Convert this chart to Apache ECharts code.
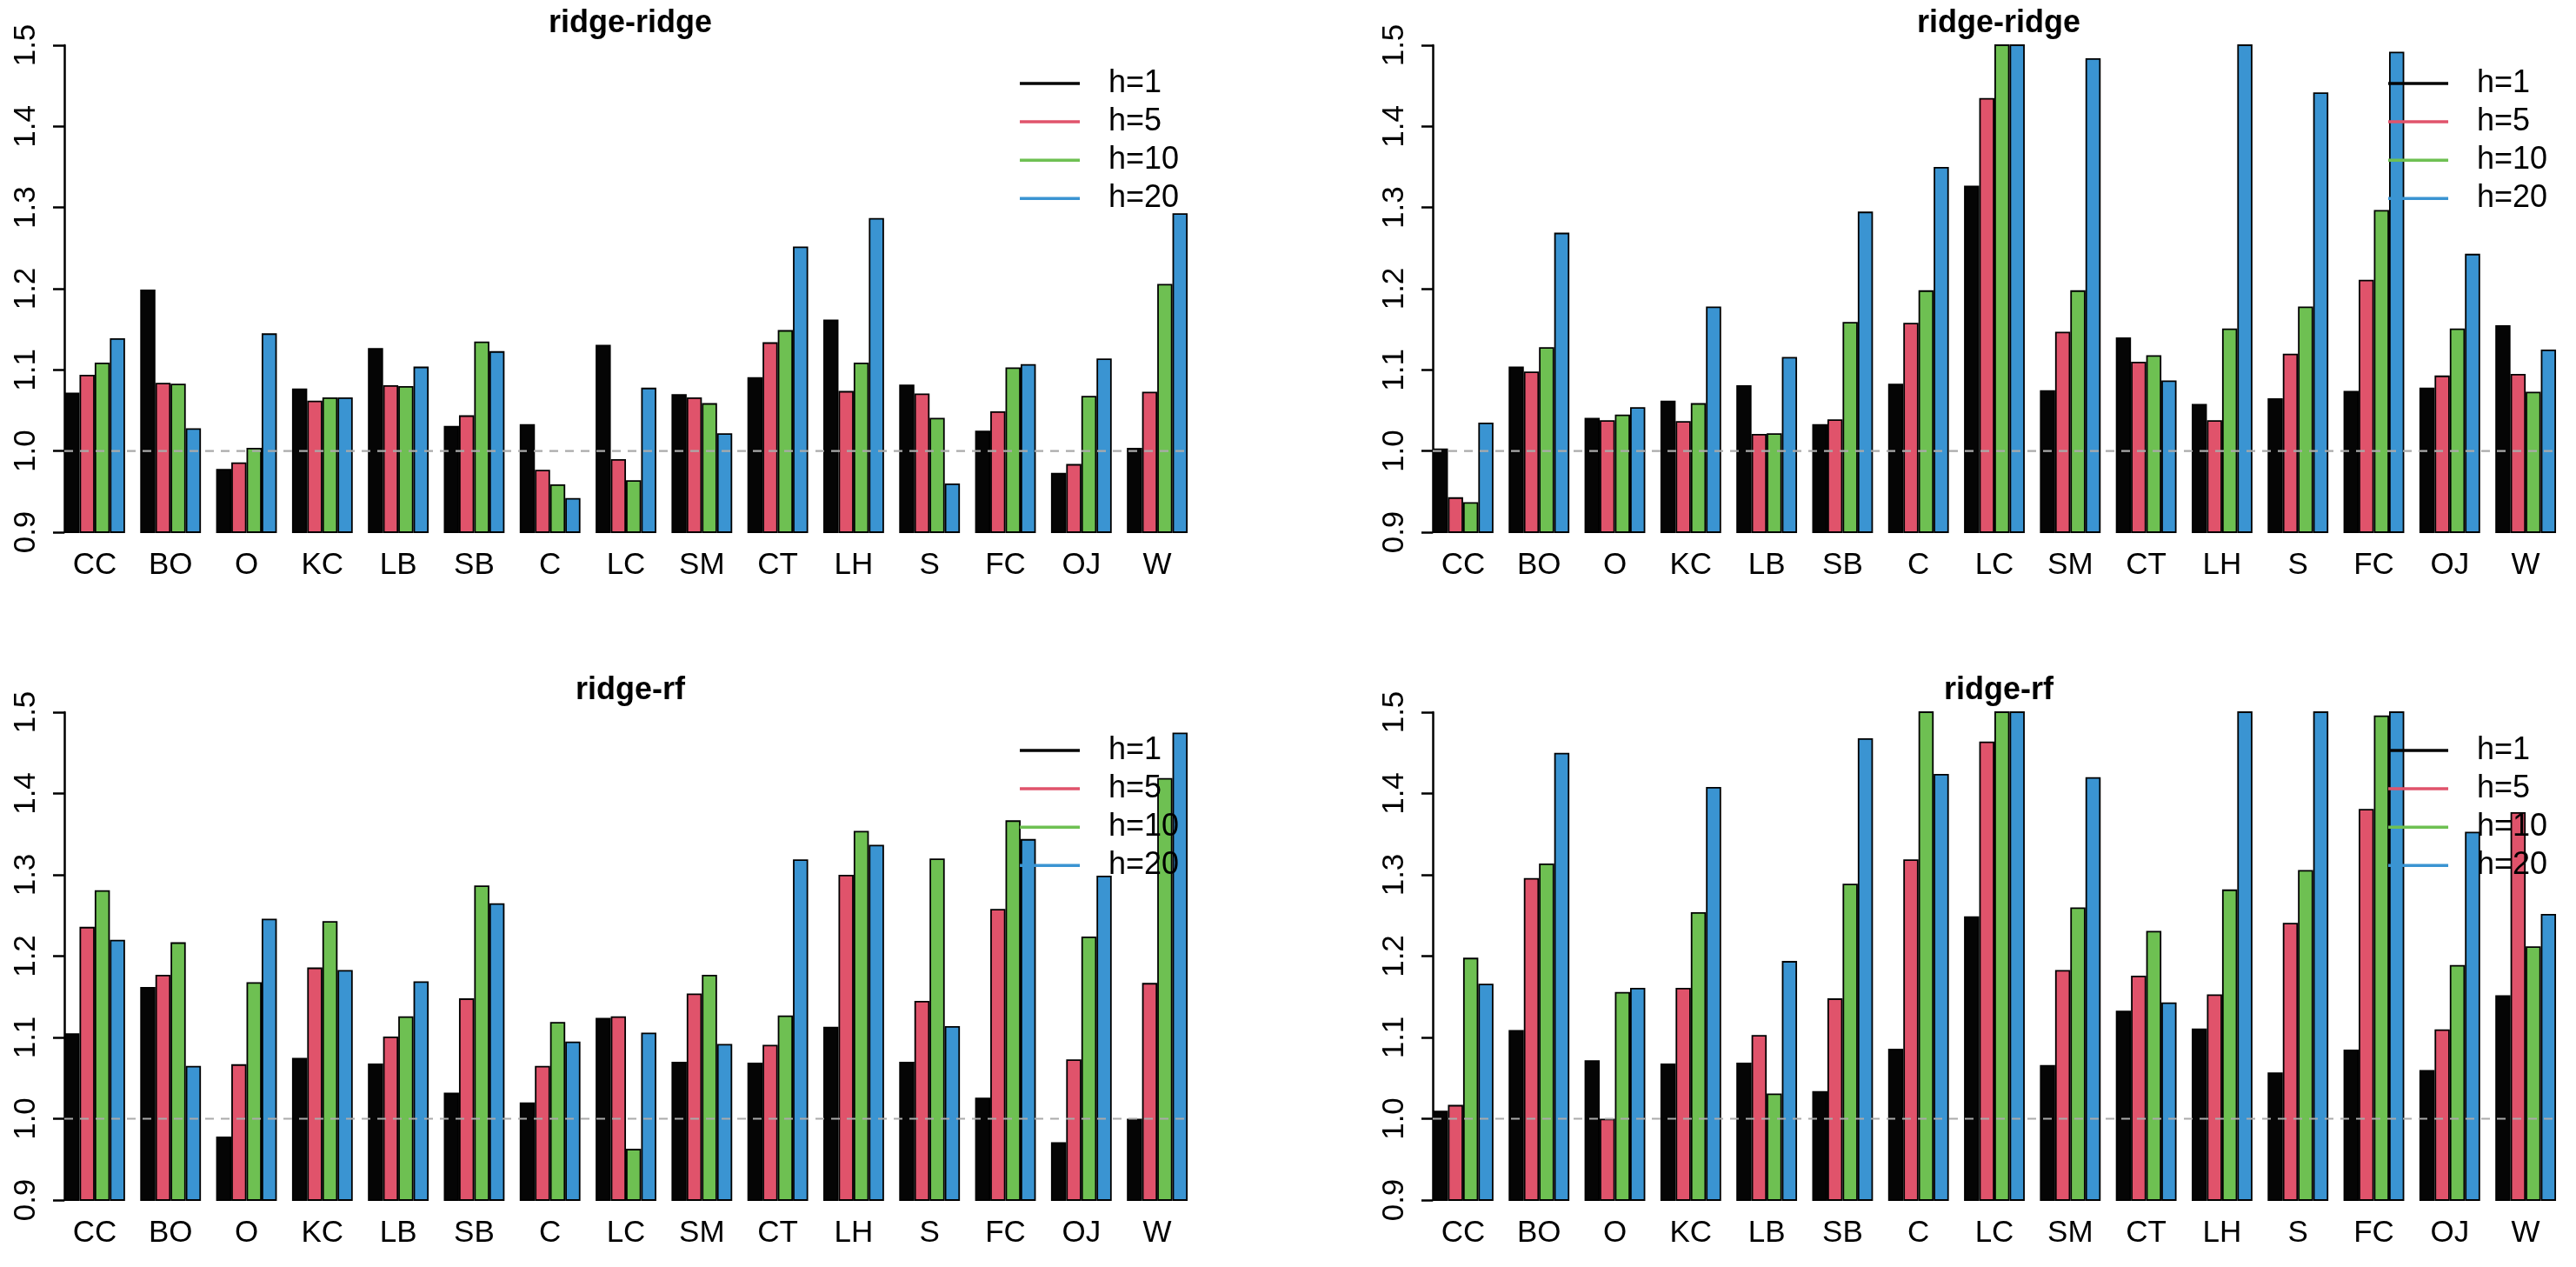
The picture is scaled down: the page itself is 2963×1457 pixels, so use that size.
<!DOCTYPE html>
<html>
<head>
<meta charset="utf-8">
<script src="https://cdn.jsdelivr.net/npm/echarts@6/dist/echarts.min.js"></script>
<style>
html,body{margin:0;padding:0;background:#fff;}
#chart{width:2963px;height:1457px;}
</style>
</head>
<body>
<div id="chart"></div>
<script>
const categories = ['CC','BO','O','KC','LB','SB','C','LC','SM','CT','LH','S','FC','OJ','W'];
const horizons = ['h=1','h=5','h=10','h=20'];
const yTicks = [0.9, 1.0, 1.1, 1.2, 1.3, 1.4, 1.5];
const titles = ['ridge-ridge','ridge-ridge','ridge-rf','ridge-rf'];

// top-left: ridge-ridge
const p1_h1  = [1.072,1.199,0.978,1.077,1.127,1.031,1.033,1.131,1.070,1.091,1.162,1.082,1.025,0.973,1.004];
const p1_h5  = [1.094,1.084,0.986,1.062,1.081,1.044,0.977,0.990,1.066,1.134,1.074,1.071,1.049,0.984,1.073];
const p1_h10 = [1.109,1.083,1.004,1.066,1.080,1.135,0.959,0.964,1.059,1.149,1.109,1.041,1.103,1.068,1.206];
const p1_h20 = [1.139,1.028,1.145,1.066,1.104,1.123,0.942,1.078,1.022,1.252,1.287,0.960,1.107,1.114,1.293];
// top-right: ridge-ridge
const p2_h1  = [1.003,1.104,1.041,1.062,1.081,1.033,1.083,1.327,1.075,1.140,1.058,1.065,1.074,1.078,1.155];
const p2_h5  = [0.943,1.098,1.038,1.037,1.021,1.039,1.158,1.435,1.147,1.110,1.038,1.120,1.211,1.093,1.095];
const p2_h10 = [0.937,1.128,1.045,1.059,1.022,1.159,1.198,1.560,1.198,1.118,1.151,1.178,1.297,1.151,1.073];
const p2_h20 = [1.035,1.269,1.054,1.178,1.116,1.295,1.350,1.620,1.484,1.087,1.580,1.442,1.492,1.243,1.125];
// bottom-left: ridge-rf
const p3_h1  = [1.105,1.162,0.978,1.075,1.068,1.032,1.020,1.124,1.070,1.069,1.113,1.070,1.026,0.971,1.000];
const p3_h5  = [1.236,1.177,1.067,1.186,1.101,1.148,1.065,1.126,1.154,1.091,1.300,1.145,1.258,1.073,1.167];
const p3_h10 = [1.281,1.217,1.168,1.243,1.126,1.287,1.119,0.963,1.177,1.127,1.354,1.320,1.367,1.224,1.419];
const p3_h20 = [1.220,1.065,1.246,1.183,1.169,1.265,1.095,1.106,1.092,1.319,1.337,1.114,1.344,1.299,1.475];
// bottom-right: ridge-rf
const p4_h1  = [1.010,1.109,1.072,1.068,1.069,1.034,1.086,1.249,1.066,1.133,1.111,1.057,1.085,1.060,1.152];
const p4_h5  = [1.017,1.296,1.000,1.161,1.103,1.148,1.319,1.464,1.183,1.176,1.153,1.241,1.381,1.110,1.377];
const p4_h10 = [1.198,1.314,1.156,1.254,1.031,1.289,1.550,1.600,1.260,1.231,1.282,1.306,1.496,1.189,1.212];
const p4_h20 = [1.166,1.450,1.161,1.408,1.194,1.468,1.424,1.650,1.420,1.143,1.570,1.540,1.580,1.353,1.252];

// reference line value
const refValue = 1.0;

const panelData = [
  [p1_h1, p1_h5, p1_h10, p1_h20],
  [p2_h1, p2_h5, p2_h10, p2_h20],
  [p3_h1, p3_h5, p3_h10, p3_h20],
  [p4_h1, p4_h5, p4_h10, p4_h20]
];

const colors = ['#050505', '#E0536B', '#6EC052', '#3A94D2'];
const FONT = '"Liberation Sans", Arial, Helvetica, sans-serif';

const unit = 17.46;               // width of one bar
const gridW = 75 * unit;
const axisX = [74, 1648, 74, 1648];
const gridTop = [52, 52, 819, 819];
const gridH = [560, 560, 561, 561];

const grid = [], xAxis = [], yAxis = [], series = [], title = [], legend = [];

for (let p = 0; p < 4; p++) {
  const left = axisX[p] - unit / 2;
  grid.push({ left: left, top: gridTop[p], width: gridW, height: gridH[p], containLabel: false });
  xAxis.push({
    type: 'category', gridIndex: p, data: categories,
    axisLine: { show: false }, axisTick: { show: false },
    axisLabel: { interval: 0, fontSize: 35, fontFamily: FONT, color: '#000', margin: 21 },
    splitLine: { show: false }
  });
  xAxis.push({
    type: 'value', gridIndex: p, min: 0.5, max: 75.5, show: false
  });
  yAxis.push({
    type: 'value', gridIndex: p, min: yTicks[0], max: yTicks[yTicks.length - 1], interval: 0.1,
    offset: -unit / 2,
    axisLine: { show: true, lineStyle: { color: '#000', width: 2.5 } },
    axisTick: { show: true, length: 13, lineStyle: { color: '#000', width: 2.5 } },
    axisLabel: { rotate: 90, fontSize: 35, fontFamily: FONT, color: '#000', margin: 26,
      formatter: v => v.toFixed(1) },
    splitLine: { show: false }
  });
  for (let h = 0; h < 4; h++) {
    series.push({
      type: 'bar', name: horizons[h], xAxisIndex: 2 * p, yAxisIndex: p,
      data: panelData[p][h], clip: true,
      barGap: '0%', barCategoryGap: '20%',
      itemStyle: { color: colors[h], borderColor: '#000', borderWidth: 1.8 },
      emphasis: { disabled: true },
      z: 2
    });
  }
  series.push({
    type: 'line', xAxisIndex: 2 * p + 1, yAxisIndex: p,
    data: [[1, refValue], [75, refValue]],
    symbol: 'none', silent: true, z: 5,
    lineStyle: { color: '#aaaaaa', width: 2.2, type: [10, 8] }
  });
  title.push({
    text: titles[p], left: axisX[p] + 74 * unit / 2, textAlign: 'center',
    top: gridTop[p] - 48,
    textStyle: { fontSize: 36, fontWeight: 'bold', fontFamily: FONT, color: '#000' }
  });
  legend.push({
    data: horizons, orient: 'vertical',
    left: axisX[p] + 74 * unit - 193, top: gridTop[p] + 26,
    padding: 0, itemGap: 8.1, itemWidth: 69, itemHeight: 3.5,
    icon: 'rect', selectedMode: false,
    itemStyle: { borderWidth: 0 },
    textStyle: { fontSize: 36, lineHeight: 36, fontFamily: FONT, color: '#000', padding: [0, 0, 0, 28] }
  });
}

const chart = echarts.init(document.getElementById('chart'));
chart.setOption({
  animation: false,
  backgroundColor: '#fff',
  title: title, legend: legend, grid: grid, xAxis: xAxis, yAxis: yAxis, series: series
});
</script>
</body>
</html>
